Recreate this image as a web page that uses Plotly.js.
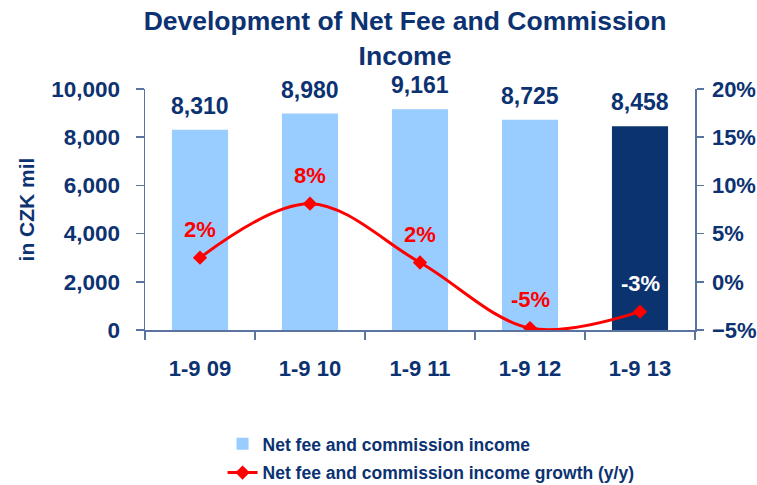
<!DOCTYPE html>
<html>
<head>
<meta charset="utf-8">
<script src="https://cdn.plot.ly/plotly-3.0.1.min.js"></script>
<style>html,body{margin:0;padding:0;background:#fff;}#chart{width:757px;height:485px;}</style>
</head>
<body>
<div id="chart"></div>
<script>
// Data
const categories = ["1-9 09", "1-9 10", "1-9 11", "1-9 12", "1-9 13"];
const income = [8310, 8980, 9161, 8725, 8458];
const growth = [2.5, 8.1, 2.0, -4.8, -3.1];
const growthLabels = ["2%", "8%", "2%", "-5%", "-3%"];
const incomeLabels = ["8,310", "8,980", "9,161", "8,725", "8,458"];

const NAVY = "#0c3272";
const AXIS = "#58749f";
const FONT = "Liberation Sans, Arial, sans-serif";

const barColors = income.map((v, i) => i === income.length - 1 ? "#0a3370" : "#99ccff");
const growthColors = growth.map((v, i) => i === growth.length - 1 ? "#ffffff" : "#ff0000");

const bars = {
  type: "bar", x: categories, y: income, name: "Net fee and commission income",
  marker: {color: barColors}, legendgroup: "a", hoverinfo: "skip"
};
const line = {
  type: "scatter", mode: "lines+markers", x: categories, y: growth, yaxis: "y2",
  name: "Net fee and commission income growth (y/y)",
  line: {color: "#ff0000", width: 3, shape: "spline", smoothing: 1},
  marker: {symbol: "diamond", size: 11, color: "#ff0000"}, legendgroup: "b", hoverinfo: "skip"
};

const annotations = [];
categories.forEach((c, i) => {
  annotations.push({x: c, y: income[i], xref: "x", yref: "y", text: incomeLabels[i],
    showarrow: false, yanchor: "bottom", yshift: 9,
    font: {family: FONT, size: 23, color: NAVY, weight: "bold"}});
  annotations.push({x: c, y: growth[i], xref: "x", yref: "y2", text: growthLabels[i],
    showarrow: false, yanchor: "bottom", yshift: 14,
    font: {family: FONT, size: 22, color: growthColors[i], weight: "bold"}});
});

const layout = {
  width: 757, height: 485,
  margin: {l: 145, r: 62, t: 89, b: 155, autoexpand: false},
  paper_bgcolor: "#fff", plot_bgcolor: "#fff",
  font: {family: FONT, color: NAVY},
  title: {text: "<b>Development of Net Fee and Commission<br>Income</b>",
    font: {family: FONT, size: 26.5, color: NAVY},
    x: 0.535, xref: "container", xanchor: "center", y: 0.938, yref: "container", yanchor: "top"},
  bargap: 0.49,
  showlegend: true,
  legend: {orientation: "v", x: 0.141, xanchor: "left", y: -0.398, yanchor: "top",
    traceorder: "grouped", tracegroupgap: 3,
    font: {family: FONT, size: 17.5, color: NAVY, weight: "bold"}, bgcolor: "rgba(0,0,0,0)"},
  xaxis: {
    type: "category", showgrid: false, zeroline: false,
    showline: true, linecolor: AXIS, linewidth: 1.5,
    ticks: "outside", tickson: "boundaries", ticklen: 8, tickcolor: AXIS, tickwidth: 1.5,
    ticklabelstandoff: 18,
    tickfont: {family: FONT, size: 22, color: NAVY, weight: "bold"}
  },
  yaxis: {
    range: [0, 10000], dtick: 2000, tickformat: ",d", showgrid: false, zeroline: false,
    showline: true, linecolor: AXIS, linewidth: 1.5,
    ticks: "outside", ticklen: 8, tickcolor: AXIS, tickwidth: 1.5,
    ticklabelstandoff: 11,
    tickfont: {family: FONT, size: 22.5, color: NAVY, weight: "bold"},
    title: {text: "<b>in CZK mil</b>", font: {family: FONT, size: 21, color: NAVY}, standoff: 11}
  },
  yaxis2: {
    overlaying: "y", side: "right", range: [-5, 20], dtick: 5, ticksuffix: "%",
    showgrid: false, zeroline: false,
    showline: true, linecolor: AXIS, linewidth: 1.5,
    ticks: "outside", ticklen: 7, tickcolor: AXIS, tickwidth: 1.5,
    ticklabelstandoff: 4,
    tickfont: {family: FONT, size: 22, color: NAVY, weight: "bold"}
  },
  annotations: annotations
};

Plotly.newPlot("chart", [bars, line], layout, {displayModeBar: false, staticPlot: true});
</script>
</body>
</html>
